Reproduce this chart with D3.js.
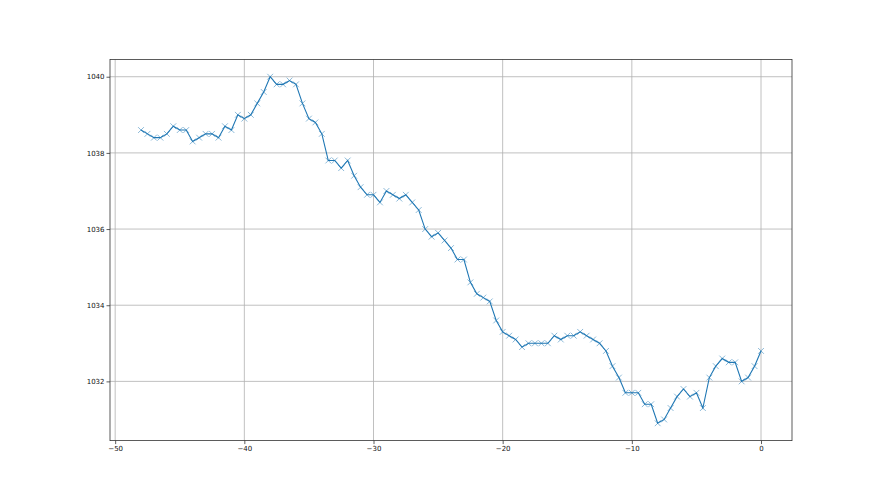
<!DOCTYPE html>
<html><head><meta charset="utf-8">
<script src="https://cdn.jsdelivr.net/npm/d3@7"></script>
<style>body{margin:0;background:#fff}svg{display:block}</style>
</head><body>
<svg id="c" width="880" height="495"></svg>
<script>
const xValues = d3.range(97).map(i => -48 + i * 0.5);
const yValues = [
 1038.6,1038.5,1038.4,1038.4,1038.5,1038.7,1038.6,1038.6,1038.3,1038.4,
 1038.5,1038.5,1038.4,1038.7,1038.6,1039.0,1038.9,1039.0,1039.3,1039.6,
 1040.0,1039.8,1039.8,1039.9,1039.8,1039.3,1038.9,1038.8,1038.5,1037.8,
 1037.8,1037.6,1037.8,1037.4,1037.1,1036.9,1036.9,1036.7,1037.0,1036.9,
 1036.8,1036.9,1036.7,1036.5,1036.0,1035.8,1035.9,1035.7,1035.5,1035.2,
 1035.2,1034.6,1034.3,1034.2,1034.1,1033.6,1033.3,1033.2,1033.1,1032.9,
 1033.0,1033.0,1033.0,1033.0,1033.2,1033.1,1033.2,1033.2,1033.3,1033.2,
 1033.1,1033.0,1032.8,1032.4,1032.1,1031.7,1031.7,1031.7,1031.4,1031.4,
 1030.9,1031.0,1031.3,1031.6,1031.8,1031.6,1031.7,1031.3,1032.1,1032.4,
 1032.6,1032.5,1032.5,1032.0,1032.1,1032.4,1032.8];
const xTicks = [-50,-40,-30,-20,-10,0];
const yTicks = [1032,1034,1036,1038,1040];

const data = xValues.map((x,i)=>({x, y:yValues[i]}));
const L=110,R=792,T=59.4,B=440.6;
const xmin=d3.min(xValues), xmax=d3.max(xValues);
const ymin=d3.min(yValues), ymax=d3.max(yValues);
const xm=(xmax-xmin)*0.05, ym=(ymax-ymin)*0.05;
const x=d3.scaleLinear().domain([xmin-xm,xmax+xm]).range([L,R]);
const y=d3.scaleLinear().domain([ymin-ym,ymax+ym]).range([B,T]);
const svg=d3.select("#c");
const fmt = d => String(d).replace("-","\u2212");

// grid
svg.append("g").selectAll("line").data(xTicks).join("line")
 .attr("x1",d=>x(d)).attr("x2",d=>x(d)).attr("y1",T).attr("y2",B)
 .attr("stroke","#b0b0b0").attr("stroke-width",0.8);
svg.append("g").selectAll("line").data(yTicks).join("line")
 .attr("y1",d=>y(d)).attr("y2",d=>y(d)).attr("x1",L).attr("x2",R)
 .attr("stroke","#b0b0b0").attr("stroke-width",0.8);

// line
svg.append("path").datum(data)
 .attr("d",d3.line().x(d=>x(d.x)).y(d=>y(d.y)))
 .attr("fill","none").attr("stroke","#1f77b4").attr("stroke-width",1.1);
// markers
const s=2.9;
svg.append("g").selectAll("path").data(data).join("path")
 .attr("d",d=>`M${x(d.x)-s},${y(d.y)-s}L${x(d.x)+s},${y(d.y)+s}M${x(d.x)-s},${y(d.y)+s}L${x(d.x)+s},${y(d.y)-s}`)
 .attr("stroke","#1f77b4").attr("stroke-opacity",0.65).attr("stroke-width",0.8).attr("fill","none");

// axes
const xa=d3.axisBottom(x).tickValues(xTicks).tickFormat(fmt).tickSize(3.5).tickPadding(2);
const ya=d3.axisLeft(y).tickValues(yTicks).tickFormat(d=>d).tickSize(3.5).tickPadding(2);
const gx=svg.append("g").attr("transform",`translate(0,${B})`).call(xa);
const gy=svg.append("g").attr("transform",`translate(${L},0)`).call(ya);
[gx,gy].forEach(g=>{
 g.select(".domain").remove();
 g.selectAll("line").attr("stroke","#333").attr("stroke-width",0.8);
 g.selectAll("text").attr("font-family","DejaVu Sans").attr("font-size","7px").attr("fill","#111");
});
svg.append("rect").attr("x",L).attr("y",T).attr("width",R-L).attr("height",B-T)
 .attr("fill","none").attr("stroke","#333").attr("stroke-width",0.8);
</script>
</body></html>
